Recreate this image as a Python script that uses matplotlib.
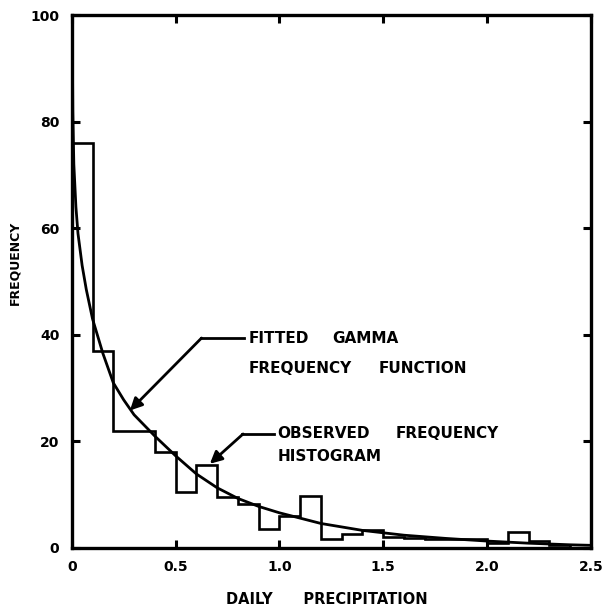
#!/usr/bin/env python3
"""Observed daily precipitation histogram with fitted gamma frequency function."""

import matplotlib
matplotlib.use('Agg')
import matplotlib.pyplot as plt

# ── Data ──────────────────────────────────────────────────────────────
bin_edges = [0.0, 0.1, 0.2, 0.3, 0.4, 0.5, 0.6, 0.7, 0.8, 0.9, 1.0,
             1.1, 1.2, 1.3, 1.4, 1.5, 1.6, 1.7, 1.8, 1.9, 2.0,
             2.1, 2.2, 2.3, 2.4, 2.5]
observed = [76, 37, 22, 22, 18, 10.5, 15.5, 9.5, 8.3, 3.6, 6.0,
            9.8, 1.6, 2.6, 3.4, 2.0, 1.8, 1.7, 1.7, 1.7, 1.0,
            3.0, 1.3, 0.5, 0.0]

gamma_x = [0.002, 0.005, 0.01, 0.02, 0.03, 0.05, 0.07, 0.1, 0.15, 0.2,
           0.25, 0.3, 0.4, 0.5, 0.6, 0.7, 0.8, 0.9, 1.0, 1.2,
           1.4, 1.6, 1.8, 2.0, 2.2, 2.4, 2.5]
gamma_y = [100, 82, 72, 64, 59, 53, 48.5, 43, 36.5, 31,
           27.8, 25, 21, 17.3, 13.9, 11.3, 9.3, 7.8, 6.6, 4.6,
           3.3, 2.4, 1.8, 1.3, 0.9, 0.6, 0.5]

xticks = [0, 0.5, 1.0, 1.5, 2.0, 2.5]
xticklabels = ["0", "0.5", "1.0", "1.5", "2.0", "2.5"]
yticks = [0, 20, 40, 60, 80, 100]

FONT = dict(family="DejaVu Sans", fontweight="heavy", color="black")
LBL = 11


def word(ax, x, y, s):
    ax.text(x, y, s, fontsize=LBL, va="center", ha="left", **FONT)


def main():
    fig = plt.figure(figsize=(6.03, 6.14), dpi=100)
    ax = fig.add_axes([0.119, 0.1075, 0.861, 0.868])

    ax.stairs(observed, bin_edges, color="black", linewidth=1.9, zorder=3)
    ax.plot(gamma_x, gamma_y, color="black", linewidth=2.0, zorder=4,
            solid_capstyle="butt")

    ax.set_xlim(0, 2.5)
    ax.set_ylim(0, 100)
    ax.set_xticks(xticks)
    ax.set_xticklabels(xticklabels, fontsize=10, **FONT)
    ax.set_yticks(yticks)
    ax.set_yticklabels([str(v) for v in yticks], fontsize=10, **FONT)

    ax.tick_params(direction="in", length=6, width=2.2, top=True, right=True,
                   pad=9)
    for spine in ax.spines.values():
        spine.set_linewidth(2.4)

    ax.set_xlabel("DAILY      PRECIPITATION", fontsize=10.5, **FONT)
    ax.xaxis.set_label_coords(0.491, -0.082)
    ax.set_ylabel("FREQUENCY", fontsize=9, **FONT)
    ax.yaxis.set_label_coords(-0.098, 0.535)

    # fitted curve annotation
    ax.plot([0.62, 0.83], [39.4, 39.4], color="black", linewidth=2.0)
    ax.annotate("", xy=(0.28, 25.8), xytext=(0.625, 39.4),
                arrowprops=dict(arrowstyle="-|>", color="black", lw=2.0,
                                mutation_scale=18, shrinkA=0, shrinkB=0))
    word(ax, 0.851, 39.4, "FITTED")
    word(ax, 1.255, 39.4, "GAMMA")
    word(ax, 0.851, 33.7, "FREQUENCY")
    word(ax, 1.48, 33.7, "FUNCTION")

    # histogram annotation
    ax.plot([0.82, 0.975], [21.4, 21.4], color="black", linewidth=2.0)
    ax.annotate("", xy=(0.665, 15.8), xytext=(0.825, 21.4),
                arrowprops=dict(arrowstyle="-|>", color="black", lw=2.0,
                                mutation_scale=18, shrinkA=0, shrinkB=0))
    word(ax, 0.99, 21.4, "OBSERVED")
    word(ax, 1.558, 21.4, "FREQUENCY")
    word(ax, 0.99, 17.1, "HISTOGRAM")

    fig.savefig("out.png", dpi=100, facecolor="white")
    plt.close(fig)


if __name__ == "__main__":
    main()
